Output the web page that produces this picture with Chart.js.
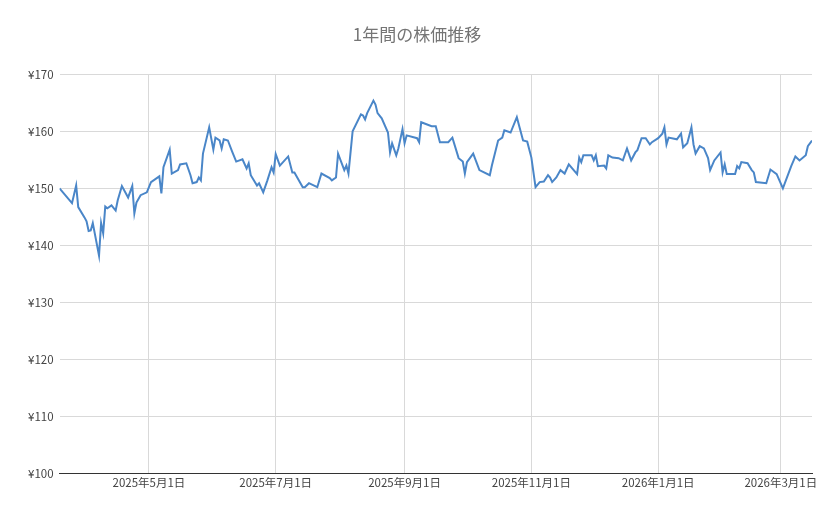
<!DOCTYPE html>
<html>
<head>
<meta charset="utf-8">
<script src="https://cdn.jsdelivr.net/npm/chart.js@4"></script>
<style>
  body { margin: 0; background: #fff; }
  #wrap { width: 839px; height: 519px; }
</style>
</head>
<body>
<div id="wrap"><canvas id="stock"></canvas></div>
<script>
// days counted from 2025-03-19
const days = [0,6,8,9,12,13,14,15,16,19,20,21,22,23,25,27,28,30,33,35,36,37,39,42,44,48,49,50,53,54,57,58,61,63,64,66,67,68,69,72,74,75,77,78,79,81,83,85,88,90,91,92,95,96,98,100,102,103,104,106,110,112,113,117,118,120,124,126,130,131,133,134,137,138,139,141,145,146,147,148,151,152,153,155,158,159,160,162,163,165,166,167,172,173,174,179,181,183,187,189,192,194,195,196,199,202,207,208,211,213,214,217,220,223,225,227,229,231,233,235,236,237,239,241,243,245,249,250,251,252,256,257,258,259,262,263,264,266,269,271,273,275,277,278,280,282,284,285,288,290,291,292,293,297,299,300,302,304,305,306,308,310,312,313,315,318,319,320,321,325,326,327,328,331,333,334,335,340,342,345,348,352,354,356,359,360,362];
const prices = [150.0,147.4,150.5,146.7,144.9,144.2,142.5,142.6,143.9,138.2,143.9,142.1,146.8,146.5,147.0,146.1,147.9,150.4,148.4,150.4,145.6,147.5,148.8,149.3,151.1,152.1,149.1,153.7,156.8,152.6,153.2,154.2,154.4,152.3,150.9,151.1,151.9,151.4,156.1,160.7,156.8,158.9,158.4,157.0,158.6,158.4,156.5,154.7,155.1,153.5,154.4,152.3,150.5,150.9,149.3,151.4,153.7,152.8,156.0,154.0,155.6,152.8,152.8,150.2,150.2,150.9,150.2,152.6,151.8,151.4,151.9,156.1,153.2,154.0,152.6,160.0,163.0,162.8,162.1,163.2,165.4,164.7,163.2,162.3,159.8,156.3,157.9,155.8,157.0,160.4,157.9,159.3,158.8,158.1,161.6,160.9,160.9,158.1,158.1,158.9,155.3,154.7,152.6,154.6,156.1,153.2,152.3,154.0,158.4,158.9,160.2,159.8,162.5,158.4,158.2,155.4,150.2,151.1,151.2,152.3,151.9,151.1,151.9,153.2,152.6,154.2,152.5,155.4,154.6,155.8,155.8,154.9,155.8,153.9,154.0,153.5,155.8,155.4,155.3,154.9,157.0,154.9,156.3,156.7,158.8,158.8,157.7,158.1,158.8,159.6,160.7,157.7,158.9,158.6,159.6,157.2,157.9,160.7,157.7,156.1,157.4,157.0,155.3,153.2,154.9,156.3,152.8,154.2,152.5,152.5,153.9,153.5,154.6,154.4,153.2,152.8,151.1,150.9,153.3,152.5,150.0,153.9,155.6,154.9,155.8,157.4,158.4];
const tickDays = [43,104,166,227,288,347];
const tickLabels = ['2025年5月1日','2025年7月1日','2025年9月1日','2025年11月1日','2026年1月1日','2026年3月1日'];
const yTicks = [100,110,120,130,140,150,160,170];

const font = "'Noto Sans CJK JP', 'Noto Sans', sans-serif";

new Chart(document.getElementById('stock'), {
    type: 'line',
    data: {
        datasets: [{
            data: days.map((d, i) => ({ x: d, y: prices[i] })),
            borderColor: '#4a86c8',
            borderWidth: 2,
            pointRadius: 0,
            tension: 0
        }]
    },
    options: {
        responsive: true,
        maintainAspectRatio: false,
        animation: false,
        layout: { padding: { left: 22, right: 27, top: 10, bottom: 26 } },
        plugins: {
            legend: { display: false },
            tooltip: { enabled: false },
            title: {
                display: true,
                text: '1年間の株価推移',
                color: '#757575',
                font: { family: font, size: 17, weight: 'normal' },
                padding: { top: 14, bottom: 30 }
            }
        },
        scales: {
            x: {
                type: 'linear',
                min: 0,
                max: 362,
                afterBuildTicks: axis => { axis.ticks = tickDays.map(v => ({ value: v })); },
                ticks: {
                    callback: (v) => tickLabels[tickDays.indexOf(v)],
                    color: '#444',
                    font: { family: font, size: 11.5 },
                    maxRotation: 0,
                    autoSkip: false
                },
                grid: { color: '#d9d9d9', drawTicks: false },
                border: { color: '#333', width: 1 }
            },
            y: {
                min: 100,
                max: 170,
                afterBuildTicks: axis => { axis.ticks = yTicks.map(v => ({ value: v })); },
                ticks: {
                    callback: v => '¥' + v,
                    color: '#444',
                    font: { family: font, size: 11.5 },
                    padding: 6
                },
                grid: { color: '#d9d9d9', drawTicks: false },
                border: { display: false }
            }
        }
    }
});
</script>
</body>
</html>
